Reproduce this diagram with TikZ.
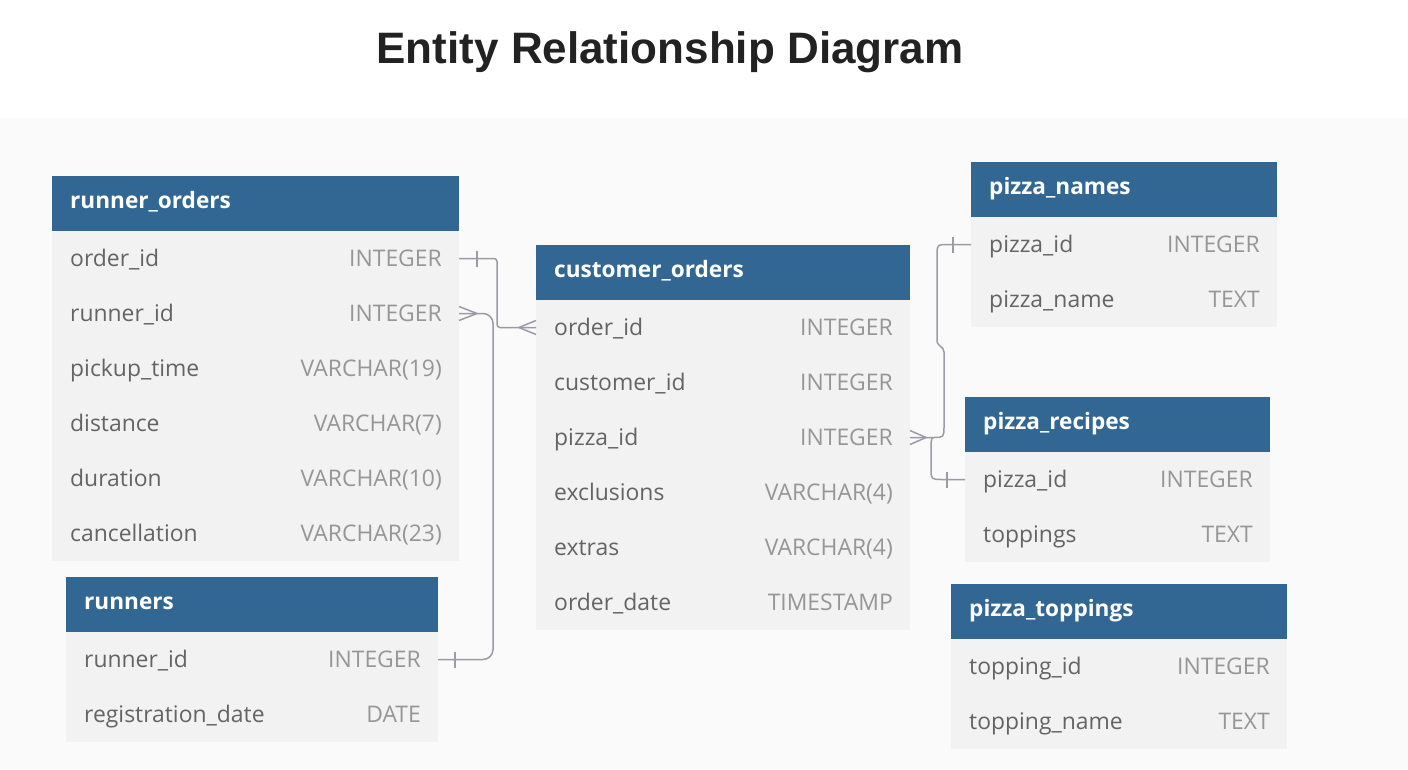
\documentclass[tikz,border=0pt]{standalone}
\usepackage{fontspec}
\setmainfont{Open Sans}
\newfontfamily\titlefont{Liberation Sans}
\usetikzlibrary{calc}
\definecolor{hdr}{RGB}{50,103,148}
\definecolor{rowbg}{RGB}{242,242,242}
\definecolor{fieldc}{RGB}{100,100,100}
\definecolor{typec}{RGB}{150,150,150}
\definecolor{linec}{RGB}{155,155,165}
\definecolor{canvas}{RGB}{250,250,250}
\definecolor{titlec}{RGB}{34,34,34}
\tikzset{
  hdrbox/.style={fill=hdr, draw=none, minimum height=55pt, inner sep=0pt, outer sep=0pt},
  rowbox/.style={fill=rowbg, draw=none, minimum height=55pt, inner sep=0pt, outer sep=0pt},
  hdrtext/.style={text=white, font=\bfseries\fontsize{22.6}{27}\selectfont, inner sep=0pt},
  fieldtext/.style={text=fieldc, font=\fontsize{22.9}{27}\selectfont, inner sep=0pt},
  typetext/.style={text=typec, font=\fontsize{22.9}{27}\selectfont, inner sep=0pt},
  rel/.style={draw=linec, line width=1.5pt},
}
\newcommand{\erdtable}[6]{%
  \node[hdrbox, minimum width=#4pt, anchor=north west] (#1-h) at (#2,#3) {};
  \node[hdrtext, anchor=base west] (#1-title) at ($(#1-h.west)+(18,5)$) {#5};
  \foreach \f/\t [count=\i] in {#6} {
    \node[rowbox, minimum width=#4pt, anchor=north west] (#1-\i) at (#2,#3+55*\i) {};
    \node[fieldtext, anchor=base west] (#1-\i-f) at ($(#1-\i.west)+(18,7.5)$) {\f};
    \node[typetext, anchor=base east] (#1-\i-t) at ($(#1-\i.east)+(-17,7.5)$) {\t};
  }
}
\newcommand{\crowfoot}[2]{% #1 anchor point, #2 horizontal offset of vertex
  \draw[rel] ($#1+(#2,0)$) -- ($#1+(0,-7)$) ($#1+(#2,0)$) -- ($#1+(0,7)$);
}
\newcommand{\onebar}[2]{%
  \draw[rel] ($#1+(#2,-8)$) -- ($#1+(#2,8)$);
}
\begin{document}
\begin{tikzpicture}[x=1pt,y=-1pt]
\useasboundingbox (0,0) rectangle (1408,769);
\fill[white] (0,0) rectangle (1408,769);
\fill[canvas] (0,118) rectangle (1408,769);
\node[text=titlec, font=\titlefont\bfseries\fontsize{44}{52}\selectfont, inner sep=0pt, anchor=base] (title) at (670,63) {Entity Relationship Diagram};

\erdtable{ro}{52}{176}{407}{runner\_orders}{order\_id/INTEGER, runner\_id/INTEGER, pickup\_time/VARCHAR(19), distance/VARCHAR(7), duration/VARCHAR(10), cancellation/VARCHAR(23)}
\erdtable{rn}{66}{577}{372}{runners}{runner\_id/INTEGER, registration\_date/DATE}
\erdtable{co}{536}{245}{374}{customer\_orders}{order\_id/INTEGER, customer\_id/INTEGER, pizza\_id/INTEGER, exclusions/VARCHAR(4), extras/VARCHAR(4), order\_date/TIMESTAMP}
\erdtable{pn}{971}{162}{306}{pizza\_names}{pizza\_id/INTEGER, pizza\_name/TEXT}
\erdtable{pr}{965}{397}{305}{pizza\_recipes}{pizza\_id/INTEGER, toppings/TEXT}
\erdtable{pt}{951}{584}{336}{pizza\_toppings}{topping\_id/INTEGER, topping\_name/TEXT}

% runner_orders.order_id -> customer_orders.order_id
\draw[rel, rounded corners=3pt] (ro-1.east) -| (497,327.5) -- (co-1.west);
\onebar{(ro-1.east)}{18}
\crowfoot{(co-1.west)}{-17}

% runners.runner_id -> runner_orders.runner_id
\draw[rel, rounded corners=10pt] (rn-1.east) -| (493,313.5) -- (ro-2.east);
\onebar{(rn-1.east)}{17}
\crowfoot{(ro-2.east)}{18}

% customer_orders.pizza_id -> pizza_names.pizza_id
\draw[rel] (co-3.east) -- (933,437.5) .. controls (944,437.5) .. (944,426) -- (944,352) .. controls (944,346) and (937,347) .. (937,340) -- (937,257) .. controls (937,244.5) .. (949,244.5) -- (pn-1.west);
\onebar{(pn-1.west)}{-18}
% customer_orders.pizza_id -> pizza_recipes.pizza_id
\draw[rel] (933,437.5) .. controls (931,438) and (931,444) .. (931,450) -- (931,468) .. controls (931,479.5) .. (942,479.5) -- (pr-1.west);
\onebar{(pr-1.west)}{-18}
\crowfoot{(co-3.east)}{16}
\end{tikzpicture}
\end{document}
